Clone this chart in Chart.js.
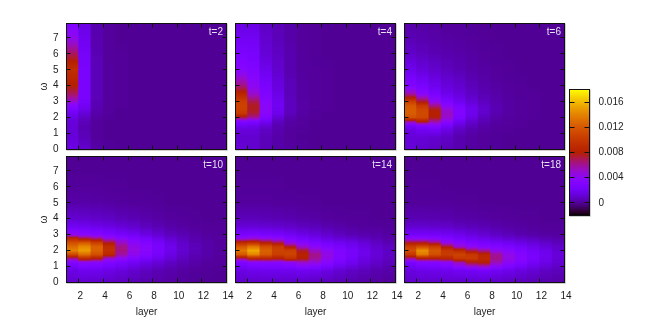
<!DOCTYPE html>
<html>
<head>
<meta charset="utf-8">
<title>heatmaps</title>
<script src="https://cdn.jsdelivr.net/npm/chart.js@4"></script>
<style>
html, body { margin: 0; padding: 0; background: #fff; }
#wrap { position: relative; width: 664px; height: 332px; overflow: hidden; }
canvas { position: absolute; left: 0; top: 0; }
</style>
</head>
<body>
<div id="wrap"></div>
<script>
const layers = [1, 2, 3, 4, 5, 6, 7, 8, 9, 10, 11, 12, 13];
const omegas = [0, 0.75, 1.25, 1.5, 1.75, 2, 2.25, 2.5, 2.75, 3, 3.5, 4, 5, 6, 7, 7.9];
const xTicks = [2, 4, 6, 8, 10, 12, 14];
const yTicks = [0, 1, 2, 3, 4, 5, 6, 7];
const cbTicks = [0, 4, 8, 12, 16];
const cbLabels = ["0", "0.004", "0.008", "0.012", "0.016"];
const panelNames = ["t=2", "t=4", "t=6", "t=10", "t=14", "t=18"];

// values are in units of 0.001, one row per layer
const t2 = [
  [1.6,1.3,1.2,1.2,1.3,1.6,2,2.6,3.4,5,6.8,8,9.3,6.8,4.2,3],
  [1,.6,.5,.5,.6,.8,1.2,1.7,2.1,2.4,2.6,2.6,2.5,2.3,1.9,1.5],
  [.3,.1,.1,.1,.1,.2,.3,.4,.5,.5,.6,.6,.6,.5,.4,.4],
  [.1,0,0,0,0,.05,.1,.1,.1,.15,.15,.15,.15,.1,.1,.1],
  [0,0,0,0,0,0,0,0,.05,.05,.05,.05,.05,.05,0,0],
  [0,0,0,0,0,0,0,0,0,0,0,0,0,0,0,0],
  [0,0,0,0,0,0,0,0,0,0,0,0,0,0,0,0],
  [0,0,0,0,0,0,0,0,0,0,0,0,0,0,0,0],
  [0,0,0,0,0,0,0,0,0,0,0,0,0,0,0,0],
  [0,0,0,0,0,0,0,0,0,0,0,0,0,0,0,0],
  [0,0,0,0,0,0,0,0,0,0,0,0,0,0,0,0],
  [0,0,0,0,0,0,0,0,0,0,0,0,0,0,0,0],
  [0,0,0,0,0,0,0,0,0,0,0,0,0,0,0,0]
];
const t4 = [
  [1.2,1,1.3,2,3.2,7,10,10.6,10.7,10.5,8.5,6.3,3.5,2.7,2,1.5],
  [1,1,1.3,1.8,2.8,6,7.2,7.6,7.6,7,5,4,3,2.5,2,1.5],
  [.6,.6,.8,1.2,2,3,3.6,3.8,3.8,3.5,3,2.6,1.8,1.2,1,.8],
  [.3,.3,.4,.5,.7,1.2,1.7,1.9,2,1.9,1.6,1.4,1,.8,.6,.5],
  [.2,.1,.1,.2,.2,.4,.6,.7,.7,.7,.6,.6,.4,.4,.3,.3],
  [.1,0,.05,.1,.1,.15,.2,.25,.25,.25,.2,.2,.15,.15,.1,.1],
  [0,0,0,0,0,.05,.05,.1,.1,.1,.1,.1,.1,.05,.05,.05],
  [0,0,0,0,0,0,0,.05,.05,.05,.05,.05,.05,0,0,0],
  [0,0,0,0,0,0,0,0,0,0,0,0,0,0,0,0],
  [0,0,0,0,0,0,0,0,0,0,0,0,0,0,0,0],
  [0,0,0,0,0,0,0,0,0,0,0,0,0,0,0,0],
  [0,0,0,0,0,0,0,0,0,0,0,0,0,0,0,0],
  [0,0,0,0,0,0,0,0,0,0,0,0,0,0,0,0]
];
const t6 = [
  [1.2,1.2,1.6,2.4,6,11.5,12.3,12.3,12,10.5,5.6,3,1.8,.9,.5,.3],
  [1,1.2,2,3.2,8,11,11.2,11,10,7.5,3.6,2.5,1.3,.7,.4,.25],
  [.8,1,2.2,3.5,5.8,7.8,8.1,7.8,6.2,4.2,2.5,1.8,1,.5,.3,.2],
  [.6,.8,1.5,2.4,3.8,5,5.2,4.8,3.8,2.8,1.7,1.3,.7,.4,.2,.1],
  [.4,.4,.8,1.3,2,2.8,3.1,3,2.5,1.9,1.3,1,.5,.3,.15,.1],
  [.2,.2,.4,.7,1,1.5,1.8,1.8,1.6,1.2,.8,.6,.3,.2,.1,.05],
  [.1,.1,.2,.3,.5,.7,.9,1,.9,.7,.5,.35,.2,.1,.05,0],
  [.1,.05,.1,.15,.2,.3,.4,.5,.45,.4,.3,.2,.1,.05,0,0],
  [0,0,.05,.1,.1,.15,.2,.2,.2,.2,.15,.1,.05,0,0,0],
  [0,0,0,.05,.05,.1,.1,.1,.1,.1,.05,.05,0,0,0,0],
  [0,0,0,0,0,.05,.05,.05,.05,.05,.05,0,0,0,0,0],
  [0,0,0,0,0,0,0,0,0,0,0,0,0,0,0,0],
  [0,0,0,0,0,0,0,0,0,0,0,0,0,0,0,0]
];
const t10 = [
  [1,1.5,3,6,11,14,13,11.5,9,4,2,1.1,.3,.1,0,0],
  [1,1.8,3.8,9,13,15,14.3,12,7.5,3.6,1.9,1,.3,.1,0,0],
  [.9,1.8,3.6,8,11.5,12.5,12.5,10.5,6.5,3.3,1.7,.9,.25,.1,0,0],
  [.8,1.6,3,5,8.8,9.5,9.2,7.5,4.7,2.8,1.5,.8,.2,.05,0,0],
  [.7,1.3,2.6,4,5.8,6.3,6.2,5.2,3.8,2.4,1.2,.6,.15,.05,0,0],
  [.5,1,2,3,4.2,4.5,4.4,3.8,3,2,1,.5,.1,0,0,0],
  [.4,.7,1.6,2.4,3.3,3.6,3.5,3.1,2.4,1.5,.7,.35,.1,0,0,0],
  [.3,.5,1.2,1.8,2.4,2.6,2.6,2.3,1.7,1.1,.5,.25,.05,0,0,0],
  [.2,.35,.8,1.2,1.5,1.7,1.7,1.5,1.1,.7,.3,.15,0,0,0,0],
  [.1,.2,.5,.7,.9,1,1,.9,.7,.5,.2,.1,0,0,0,0],
  [.05,.1,.3,.4,.5,.6,.6,.5,.4,.3,.1,.05,0,0,0,0],
  [0,.05,.15,.2,.3,.3,.3,.3,.2,.15,.05,0,0,0,0,0],
  [0,0,.1,.1,.15,.15,.15,.15,.1,.1,.05,0,0,0,0,0]
];
const t14 = [
  [.9,1.5,2.8,6.5,12,13.5,12,9,4.5,2.6,1.2,.6,.15,.05,0,0],
  [.9,1.7,3.5,8.5,14,15.5,13.5,9.5,5,2.7,1.2,.6,.15,.05,0,0],
  [.9,1.8,3.6,8.5,12,12.5,11.5,8,4.5,2.5,1.1,.55,.15,.05,0,0],
  [.8,1.8,3.6,8,10.5,10.8,10.2,7,4,2.4,1,.5,.1,.05,0,0],
  [.8,1.8,4,9.5,10.8,10.6,7.5,4.4,3,2,.9,.4,.1,0,0,0],
  [.8,1.9,5,8,8.3,7.4,5,3.5,2.4,1.6,.7,.3,.05,0,0,0],
  [.7,1.8,4.6,6,6.2,5.2,3.8,2.8,1.9,1.3,.6,.25,.05,0,0,0],
  [.6,1.5,3.5,4.3,4.5,4,3.1,2.3,1.5,1,.4,.15,0,0,0,0],
  [.5,1.1,2.5,3,3.2,3,2.5,1.9,1.2,.7,.3,.1,0,0,0,0],
  [.4,.8,1.9,2.2,2.4,2.4,2,1.6,1,.5,.2,.05,0,0,0,0],
  [.3,.6,1.3,1.5,1.7,1.7,1.5,1.2,.7,.4,.1,.05,0,0,0,0],
  [.2,.4,.9,1.1,1.2,1.2,1,.8,.5,.3,.1,0,0,0,0,0],
  [.1,.3,.6,.7,.8,.8,.7,.5,.3,.2,.05,0,0,0,0,0]
];
const t18 = [
  [.9,1.4,2.6,6,10,11.5,10.5,7.5,4,2.3,1,.5,.1,.05,0,0],
  [.9,1.6,3.2,8,13.5,14.5,11.5,7.5,4,2.3,1,.5,.1,.05,0,0],
  [.9,1.7,3.3,8,11.5,12,10.5,6.5,3.7,2.2,.95,.45,.1,.05,0,0],
  [.9,1.8,3.8,8.5,10.3,10,7.5,4.3,3,2,.9,.4,.1,0,0,0],
  [.9,2,5.5,10,10.8,9,5,3.5,2.4,1.7,.7,.3,.05,0,0,0],
  [.9,2.1,7.5,10.2,10,7,4,2.9,2,1.4,.6,.25,.05,0,0,0],
  [.9,2.3,8,9,8.6,6,3.4,2.5,1.7,1.1,.5,.2,0,0,0,0],
  [.8,2,5.4,6.2,6,4.3,3,2.2,1.4,.8,.35,.15,0,0,0,0],
  [.7,1.7,3.9,4.5,4.4,3.6,2.7,1.9,1.1,.6,.25,.1,0,0,0,0],
  [.6,1.4,3,3.4,3.3,2.8,2.2,1.5,.9,.4,.2,.05,0,0,0,0],
  [.5,1.1,2.2,2.5,2.5,2.2,1.7,1.2,.7,.3,.1,.05,0,0,0,0],
  [.4,.8,1.6,1.8,1.9,1.7,1.3,.9,.5,.2,.05,0,0,0,0,0],
  [.3,.6,1.1,1.2,1.3,1.1,.9,.6,.35,.15,.05,0,0,0,0,0]
];
const panelData = [t2, t4, t6, t10, t14, t18];

const OMEGA_MAX = 7.9;
const CB_MIN = -2, CB_MAX = 18;
const W = 664, H = 332;
const FONT = { family: "'Liberation Sans', Arial, sans-serif", size: 10 };
const INK = "#1c1c1c";
Chart.defaults.font.family = FONT.family;
Chart.defaults.font.size = FONT.size;

// gnuplot's default pm3d palette (rgbformulae 7,5,15)
function colorOf(v) {
  const x = Math.min(1, Math.max(0, (v - CB_MIN) / (CB_MAX - CB_MIN)));
  const r = Math.sqrt(x), g = x * x * x, b = Math.max(0, Math.sin(2 * Math.PI * x));
  return `rgb(${Math.round(r * 255)},${Math.round(g * 255)},${Math.round(b * 255)})`;
}

// fill for one column: the palette has to be followed between two read values
function columnGradient(chart, row) {
  const y = chart.scales.y;
  const y0 = y.getPixelForValue(0), y1 = y.getPixelForValue(OMEGA_MAX);
  const grad = chart.ctx.createLinearGradient(0, y0, 0, y1);
  for (let i = 0; i < omegas.length - 1; i++) {
    for (let k = 0; k < 8; k++) {
      const f = k / 8;
      grad.addColorStop((omegas[i] + f * (omegas[i + 1] - omegas[i])) / OMEGA_MAX, colorOf(row[i] + f * (row[i + 1] - row[i])));
    }
  }
  grad.addColorStop(1, colorOf(row[row.length - 1]));
  return grad;
}

function colorbarGradient(chart) {
  const y = chart.scales.y;
  const grad = chart.ctx.createLinearGradient(0, y.getPixelForValue(CB_MIN), 0, y.getPixelForValue(CB_MAX));
  for (let i = 0; i <= 60; i++) {
    grad.addColorStop(i / 60, colorOf(CB_MIN + (CB_MAX - CB_MIN) * i / 60));
  }
  return grad;
}

// frame, inward ticks on all four sides, and the t=.. label
const framePlugin = {
  id: "frame",
  afterDraw(chart, args, opts) {
    const { ctx, chartArea: a, scales } = chart;
    ctx.save();
    ctx.strokeStyle = "#cfcfcf";
    ctx.lineWidth = 1;
    ctx.beginPath();
    ctx.moveTo(a.right + 1, a.top);
    ctx.lineTo(a.right + 1, a.bottom + 1);
    ctx.lineTo(a.left, a.bottom + 1);
    ctx.stroke();
    ctx.strokeStyle = "#111";
    ctx.strokeRect(a.left, a.top, a.right - a.left, a.bottom - a.top);
    ctx.beginPath();
    const len = opts.tickLen;
    if (scales.x.options.display) {
      scales.x.ticks.forEach(t => {
        const px = Math.floor(scales.x.getPixelForValue(t.value)) + 0.5;
        ctx.moveTo(px, a.bottom); ctx.lineTo(px, a.bottom - len);
        ctx.moveTo(px, a.top); ctx.lineTo(px, a.top + len);
      });
    }
    scales.y.ticks.forEach(t => {
      const py = Math.floor(scales.y.getPixelForValue(t.value)) + 0.5;
      ctx.moveTo(a.left, py); ctx.lineTo(a.left + len, py);
      ctx.moveTo(a.right, py); ctx.lineTo(a.right - len, py);
    });
    ctx.stroke();
    if (opts.name) {
      ctx.fillStyle = "#e6e0f2";
      ctx.font = `${FONT.size}px ${FONT.family}`;
      ctx.textAlign = "right";
      ctx.textBaseline = "middle";
      ctx.fillText(opts.name, a.right - 3.5, a.top + 8.5);
    }
    ctx.restore();
  }
};

function addCanvas() {
  const c = document.createElement("canvas");
  c.width = W; c.height = H;
  c.style.width = W + "px"; c.style.height = H + "px";
  document.getElementById("wrap").appendChild(c);
  return c;
}

function drawPanel(idx, left, top) {
  const right = left + 160, bottom = top + 126;
  const isBottom = idx >= 3, isLeft = idx % 3 === 0;
  const axisW = isLeft ? 28 : 0, axisH = isBottom ? 36 : 0;
  const rows = panelData[idx];
  new Chart(addCanvas(), {
    type: "bar",
    data: {
      datasets: [{
        data: layers.map(l => ({ x: l + 0.5, y: [0, OMEGA_MAX] })),
        backgroundColor: ctx => ctx.chart.chartArea && ctx.dataIndex !== undefined ? columnGradient(ctx.chart, rows[ctx.dataIndex]) : colorOf(0),
        borderWidth: 0,
        barPercentage: 1.09,
        categoryPercentage: 1
      }]
    },
    options: {
      responsive: false,
      animation: false,
      events: [],
      layout: { padding: { left: left - axisW, top: top, right: W - right, bottom: H - bottom - axisH } },
      plugins: { legend: { display: false }, tooltip: { enabled: false }, frame: { name: panelNames[idx], tickLen: 4 } },
      scales: {
        x: {
          type: "linear", offset: false, min: 1, max: 14,
          grid: { display: false, drawTicks: false, offset: false }, border: { display: false },
          afterBuildTicks: s => { s.ticks = xTicks.map(v => ({ value: v })); },
          ticks: { display: isBottom, autoSkip: false, maxRotation: 0, padding: 8, labelOffset: 1.5, color: INK, font: FONT, callback: v => String(v) },
          title: { display: isBottom, text: "layer", color: INK, font: FONT, padding: 0 },
          afterFit: s => { s.height = axisH; s.paddingLeft = 0; s.paddingRight = 0; }
        },
        y: {
          type: "linear", min: 0, max: OMEGA_MAX,
          grid: { display: false, drawTicks: false }, border: { display: false },
          afterBuildTicks: s => { s.ticks = yTicks.map(v => ({ value: v })); },
          ticks: { display: isLeft, autoSkip: false, padding: 8, color: INK, font: FONT, callback: v => String(v) },
          title: { display: isLeft, text: "ω", color: INK, font: FONT, padding: 0 },
          afterFit: s => { s.width = axisW; s.paddingTop = 0; s.paddingBottom = 0; }
        }
      }
    },
    plugins: [framePlugin]
  });
}

function drawColorbar(left, top) {
  const right = left + 20, bottom = top + 126, axisW = 40;
  new Chart(addCanvas(), {
    type: "bar",
    data: {
      datasets: [{
        data: [{ x: 0.5, y: [CB_MIN, CB_MAX] }],
        backgroundColor: ctx => ctx.chart.chartArea ? colorbarGradient(ctx.chart) : colorOf(0),
        borderWidth: 0,
        barPercentage: 1,
        categoryPercentage: 1
      }]
    },
    options: {
      responsive: false,
      animation: false,
      events: [],
      layout: { padding: { left: left, top: top, right: W - right - axisW, bottom: H - bottom } },
      plugins: { legend: { display: false }, tooltip: { enabled: false }, frame: { tickLen: 5 } },
      scales: {
        x: { type: "linear", display: false, offset: false, min: 0, max: 1, grid: { offset: false } },
        y: {
          type: "linear", position: "right", min: CB_MIN, max: CB_MAX,
          grid: { display: false, drawTicks: false }, border: { display: false },
          afterBuildTicks: s => { s.ticks = cbTicks.map(v => ({ value: v })); },
          ticks: { autoSkip: false, padding: 9, color: INK, font: FONT, callback: (v, i) => cbLabels[i] },
          afterFit: s => { s.width = axisW; s.paddingTop = 0; s.paddingBottom = 0; }
        }
      }
    },
    plugins: [framePlugin]
  });
}

const panelLefts = [66.5, 235.5, 404.5];
const panelTops = [23.5, 156.5];
panelData.forEach((_, i) => drawPanel(i, panelLefts[i % 3], panelTops[Math.floor(i / 3)]));
drawColorbar(569.5, 89.5);
</script>
</body>
</html>
